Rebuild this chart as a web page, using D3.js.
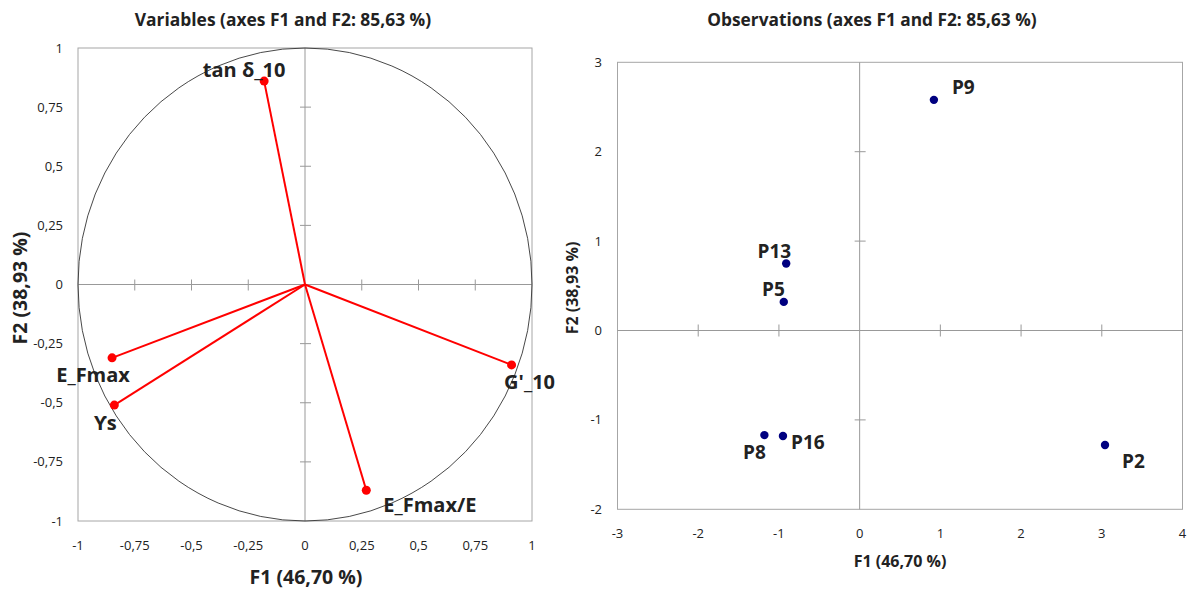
<!DOCTYPE html>
<html>
<head>
<meta charset="utf-8">
<script src="https://cdn.jsdelivr.net/npm/d3@7"></script>
<style>
  body { margin: 0; background: #fff; }
  svg text { font-family: "Open Sans", sans-serif; fill: #222; }
</style>
</head>
<body>
<div id="chart"></div>
<script>
// variables (correlation circle)
const varNames = ["tan δ_10", "E_Fmax", "ϒs", "G'_10", "E_Fmax/E"];
const varF1 = [-0.18, -0.85, -0.84, 0.91, 0.27];
const varF2 = [0.86, -0.31, -0.51, -0.34, -0.87];
const varTicks = [-1, -0.75, -0.5, -0.25, 0, 0.25, 0.5, 0.75, 1];

// observations
const obsNames = ["P9", "P13", "P5", "P8", "P16", "P2"];
const obsF1 = [0.92, -0.91, -0.94, -1.18, -0.95, 3.04];
const obsF2 = [2.58, 0.75, 0.32, -1.17, -1.18, -1.28];
const obsXTicks = [-3, -2, -1, 0, 1, 2, 3, 4];
const obsYTicks = [-2, -1, 0, 1, 2, 3];

const fmt = v => String(v).replace(".", ",");

const drawChart = () => {
  const width = 1187;
  const height = 589;

  const svg = d3.select("#chart")
    .append("svg")
    .attr("width", width)
    .attr("height", height);

  // ---------- left panel ----------
  const x1 = d3.scaleLinear().domain([-1, 1]).range([78, 532]);
  const y1 = d3.scaleLinear().domain([-1, 1]).range([521, 48]);

  const left = svg.append("g");

  left.append("rect")
    .attr("x", x1(-1)).attr("y", y1(1))
    .attr("width", x1(1) - x1(-1)).attr("height", y1(-1) - y1(1))
    .attr("fill", "none").attr("stroke", "#a6a6a6");

  left.append("line")
    .attr("x1", x1(-1)).attr("x2", x1(1)).attr("y1", y1(0)).attr("y2", y1(0))
    .attr("stroke", "#999");
  left.append("line")
    .attr("x1", x1(0)).attr("x2", x1(0)).attr("y1", y1(1)).attr("y2", y1(-1))
    .attr("stroke", "#999");

  // cross ticks on the centre axes
  left.selectAll(".xt").data(varTicks.filter(d => d !== 0 && Math.abs(d) !== 1)).enter()
    .append("line")
    .attr("x1", d => x1(d)).attr("x2", d => x1(d))
    .attr("y1", y1(0) - 5).attr("y2", y1(0) + 6)
    .attr("stroke", "#999");
  left.selectAll(".yt").data(varTicks.filter(d => d !== 0 && Math.abs(d) !== 1)).enter()
    .append("line")
    .attr("x1", x1(0) - 5).attr("x2", x1(0) + 6)
    .attr("y1", d => y1(d)).attr("y2", d => y1(d))
    .attr("stroke", "#999");

  // unit circle
  left.append("ellipse")
    .attr("cx", x1(0)).attr("cy", y1(0))
    .attr("rx", x1(1) - x1(0)).attr("ry", y1(0) - y1(1))
    .attr("fill", "none").attr("stroke", "#333").attr("stroke-width", 0.9);

  left.selectAll(".xl").data(varTicks).enter()
    .append("text")
    .attr("x", d => x1(d)).attr("y", 550)
    .attr("text-anchor", "middle").attr("font-size", 13)
    .text(fmt);
  left.selectAll(".yl").data(varTicks).enter()
    .append("text")
    .attr("x", 63).attr("y", d => y1(d) + 4.5)
    .attr("text-anchor", "end").attr("font-size", 13)
    .text(fmt);

  const vars = varNames.map((n, i) => ({ n, f1: varF1[i], f2: varF2[i] }));
  const varOff = [[-20, -11, "middle"], [-19, 17, "middle"], [-9, 18, "middle"], [18, 17, "middle"], [17, 15, "start"]];

  left.selectAll(".vec").data(vars).enter()
    .append("line")
    .attr("x1", x1(0)).attr("y1", y1(0))
    .attr("x2", d => x1(d.f1)).attr("y2", d => y1(d.f2))
    .attr("stroke", "#ff0000").attr("stroke-width", 2);
  left.selectAll(".dot").data(vars).enter()
    .append("circle")
    .attr("cx", d => x1(d.f1)).attr("cy", d => y1(d.f2)).attr("r", 4.5)
    .attr("fill", "#ff0000");
  left.selectAll(".lab").data(vars).enter()
    .append("text")
    .attr("x", (d, i) => x1(d.f1) + varOff[i][0])
    .attr("y", (d, i) => y1(d.f2) + varOff[i][1] + 7)
    .attr("text-anchor", (d, i) => varOff[i][2])
    .attr("font-size", 20).attr("font-weight", "bold")
    .text(d => d.n);

  left.append("text")
    .attr("x", 283).attr("y", 26)
    .attr("text-anchor", "middle").attr("font-size", 17.4).attr("font-weight", "bold")
    .text("Variables (axes F1 and F2: 85,63 %)");
  left.append("text")
    .attr("x", 306).attr("y", 584)
    .attr("text-anchor", "middle").attr("font-size", 19.5).attr("font-weight", "bold")
    .text("F1 (46,70 %)");
  left.append("text")
    .attr("transform", "translate(27,288) rotate(-90)")
    .attr("text-anchor", "middle").attr("font-size", 19.5).attr("font-weight", "bold")
    .text("F2 (38,93 %)");

  // ---------- right panel ----------
  const x2 = d3.scaleLinear().domain([-3, 4]).range([617.5, 1182.5]);
  const y2 = d3.scaleLinear().domain([-2, 3]).range([509.3, 62.3]);

  const right = svg.append("g");

  right.append("rect")
    .attr("x", x2(-3)).attr("y", y2(3))
    .attr("width", x2(4) - x2(-3)).attr("height", y2(-2) - y2(3))
    .attr("fill", "none").attr("stroke", "#a6a6a6");
  right.append("line")
    .attr("x1", x2(-3)).attr("x2", x2(4)).attr("y1", y2(0)).attr("y2", y2(0))
    .attr("stroke", "#999");
  right.append("line")
    .attr("x1", x2(0)).attr("x2", x2(0)).attr("y1", y2(3)).attr("y2", y2(-2))
    .attr("stroke", "#999");

  right.selectAll(".xt").data(obsXTicks.filter(d => d !== 0 && d !== -3 && d !== 4)).enter()
    .append("line")
    .attr("x1", d => x2(d)).attr("x2", d => x2(d))
    .attr("y1", y2(0) - 6).attr("y2", y2(0) + 6)
    .attr("stroke", "#999");
  right.selectAll(".yt").data(obsYTicks.filter(d => d !== 0 && d !== -2 && d !== 3)).enter()
    .append("line")
    .attr("x1", x2(0) - 5).attr("x2", x2(0) + 6)
    .attr("y1", d => y2(d)).attr("y2", d => y2(d))
    .attr("stroke", "#999");

  right.selectAll(".xl").data(obsXTicks).enter()
    .append("text")
    .attr("x", d => x2(d)).attr("y", 538)
    .attr("text-anchor", "middle").attr("font-size", 13)
    .text(fmt);
  right.selectAll(".yl").data(obsYTicks).enter()
    .append("text")
    .attr("x", 602).attr("y", d => y2(d) + 4.5)
    .attr("text-anchor", "end").attr("font-size", 13)
    .text(fmt);

  const obs = obsNames.map((n, i) => ({ n, f1: obsF1[i], f2: obsF2[i] }));
  const obsOff = [[18, -12, "start"], [5, -12, "end"], [1, -12, "end"], [-10, 17, "middle"], [8, 7, "start"], [17, 17, "start"]];

  right.selectAll(".dot").data(obs).enter()
    .append("circle")
    .attr("cx", d => x2(d.f1)).attr("cy", d => y2(d.f2)).attr("r", 4.2)
    .attr("fill", "#000080");
  right.selectAll(".lab").data(obs).enter()
    .append("text")
    .attr("x", (d, i) => x2(d.f1) + obsOff[i][0])
    .attr("y", (d, i) => y2(d.f2) + obsOff[i][1] + 6.5)
    .attr("text-anchor", (d, i) => obsOff[i][2])
    .attr("font-size", 19).attr("font-weight", "bold")
    .text(d => d.n);

  right.append("text")
    .attr("x", 872).attr("y", 26)
    .attr("text-anchor", "middle").attr("font-size", 17.3).attr("font-weight", "bold")
    .text("Observations (axes F1 and F2: 85,63 %)");
  right.append("text")
    .attr("x", 900).attr("y", 567)
    .attr("text-anchor", "middle").attr("font-size", 16).attr("font-weight", "bold")
    .text("F1 (46,70 %)");
  right.append("text")
    .attr("transform", "translate(578,288) rotate(-90)")
    .attr("text-anchor", "middle").attr("font-size", 16).attr("font-weight", "bold")
    .text("F2 (38,93 %)");
};

drawChart();
</script>
</body>
</html>
